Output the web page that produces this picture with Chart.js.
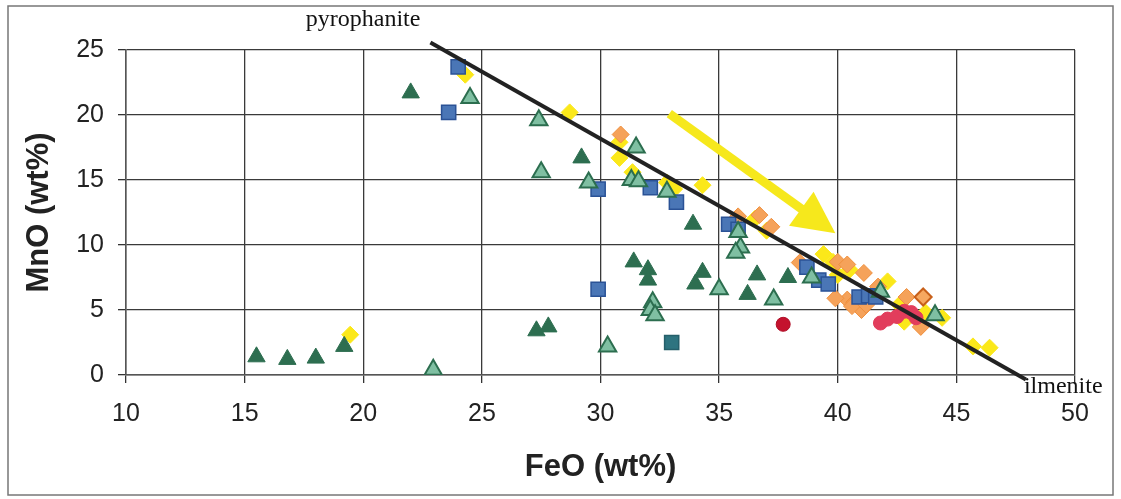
<!DOCTYPE html>
<html>
<head>
<meta charset="utf-8">
<script src="https://cdn.jsdelivr.net/npm/chart.js@4/dist/chart.umd.min.js"></script>
<style>
  html, body { margin: 0; padding: 0; background: #fff; }
  #wrap { width: 1121px; height: 499px; }
</style>
</head>
<body>
<div id="wrap"><canvas id="chart" width="1121" height="499"></canvas></div>
<script>
// axis ranges
const feoRange = [10, 50];
const mnoRange = [0, 25];

// dark green triangles
const darkTriFeO = [15.5, 16.8, 18.0, 19.2, 22.0, 29.2, 33.9, 31.4, 32.0, 32.0, 34.3, 34.0, 36.6, 36.2, 37.9, 27.3, 27.8];
const darkTriMnO = [1.4, 1.2, 1.3, 2.2, 21.7, 16.7, 11.6, 8.7, 8.1, 7.3, 7.9, 7.0, 7.7, 6.2, 7.5, 3.4, 3.7];

// light green triangles
const lightTriFeO = [24.5, 27.4, 27.5, 29.5, 31.5, 31.3, 31.6, 32.8, 35.8, 35.9, 35.7, 35.0, 37.3, 38.9, 41.8, 44.1, 32.2, 32.1, 32.3, 30.3, 22.95];
const lightTriMnO = [21.3, 19.6, 15.6, 14.8, 17.5, 15.0, 14.9, 14.1, 11.0, 9.8, 9.4, 6.6, 5.8, 7.5, 6.4, 4.6, 5.6, 5.0, 4.6, 2.2, 0.4];

// blue squares
const blueSqFeO = [24.0, 23.6, 29.9, 32.1, 33.2, 35.4, 35.8, 29.9, 38.7, 39.2, 39.6, 40.9, 41.3, 41.6];
const blueSqMnO = [23.7, 20.2, 14.3, 14.4, 13.3, 11.6, 11.2, 6.6, 8.3, 7.3, 7.0, 6.0, 6.1, 6.0];

// teal square
const tealSqFeO = [33.0];
const tealSqMnO = [2.5];

// yellow diamonds
const yellowFeO = [24.3, 28.7, 19.45, 30.8, 30.8, 31.35, 32.8, 33.1, 34.3, 36.5, 37.0, 39.4, 39.8, 40.0, 40.5, 42.1, 42.6, 42.8, 43.7, 44.4, 45.7, 46.4];
const yellowMnO = [23.1, 20.2, 3.1, 17.9, 16.7, 15.6, 14.8, 14.3, 14.6, 12.0, 11.1, 9.3, 8.7, 7.7, 8.1, 7.2, 5.4, 4.1, 4.8, 4.4, 2.2, 2.1];

// orange diamonds
const orangeFeO = [30.85, 35.8, 36.7, 37.2, 38.4, 40.0, 40.4, 41.1, 41.7, 42.9, 43.5, 40.4, 40.7, 41.0, 40.6, 41.2, 39.9];
const orangeMnO = [18.5, 12.2, 12.3, 11.4, 8.65, 8.7, 8.5, 7.85, 6.8, 6.0, 3.7, 5.8, 5.6, 5.0, 5.3, 5.4, 5.9];

// orange diamond with dark rim
const rimFeO = [43.6];
const rimMnO = [6.0];

// red circles
const redFeO = [37.7];
const redMnO = [3.9];
const pinkFeO = [41.8, 42.1, 42.5, 42.8, 43.1, 43.3];
const pinkMnO = [4.0, 4.3, 4.5, 4.9, 4.8, 4.4];

// pyrophanite - ilmenite line
const joinFeO = [22.83, 47.93];
const joinMnO = [25.58, -0.35];

// yellow arrow
const arrowFeO = [32.9, 39.9];
const arrowMnO = [20.1, 10.9];

function pts(xs, ys) {
     return xs.map((x, i) => ({ x: x, y: ys[i] }));
}

// outer frame and white background
const framePlugin = {
     id: 'frame',
     beforeDraw(chart) {
          const ctx = chart.ctx;
          ctx.save();
          ctx.fillStyle = '#fff';
          ctx.fillRect(0, 0, chart.width, chart.height);
          ctx.strokeStyle = '#777';
          ctx.lineWidth = 1.5;
          ctx.strokeRect(8, 6, chart.width - 16, chart.height - 10);
          ctx.restore();
     }
};

// arrow + end member labels
const notesPlugin = {
     id: 'notes',
     afterDatasetsDraw(chart) {
          const ctx = chart.ctx;
          const xs = chart.scales.x, ys = chart.scales.y;
          const x0 = xs.getPixelForValue(arrowFeO[0]), y0 = ys.getPixelForValue(arrowMnO[0]);
          const x1 = xs.getPixelForValue(arrowFeO[1]), y1 = ys.getPixelForValue(arrowMnO[1]);
          const ang = Math.atan2(y1 - y0, x1 - x0);
          const headLen = 42, headHalf = 21;
          const bx = x1 - Math.cos(ang) * headLen, by = y1 - Math.sin(ang) * headLen;
          ctx.save();
          ctx.strokeStyle = '#f6e81c';
          ctx.fillStyle = '#f6e81c';
          ctx.lineWidth = 9;
          ctx.beginPath();
          ctx.moveTo(x0, y0);
          ctx.lineTo(bx + Math.cos(ang) * 4, by + Math.sin(ang) * 4);
          ctx.stroke();
          ctx.beginPath();
          ctx.moveTo(x1, y1);
          ctx.lineTo(bx - Math.sin(ang) * headHalf, by + Math.cos(ang) * headHalf);
          ctx.lineTo(bx + Math.sin(ang) * headHalf, by - Math.cos(ang) * headHalf);
          ctx.closePath();
          ctx.fill();

          // labels at line ends
          const px = xs.getPixelForValue(joinFeO[0]), py = ys.getPixelForValue(joinMnO[0]);
          const ex = xs.getPixelForValue(joinFeO[1]), ey = ys.getPixelForValue(joinMnO[1]);
          ctx.fillStyle = '#111';
          ctx.font = '24px "Liberation Serif", "DejaVu Serif", serif';
          ctx.textAlign = 'right';
          ctx.textBaseline = 'alphabetic';
          ctx.fillText('pyrophanite', px - 10, py - 16);
          ctx.textAlign = 'left';
          ctx.textBaseline = 'middle';
          ctx.fillText('ilmenite', ex - 2, ey + 7);
          ctx.restore();
     }
};

const ctx = document.getElementById('chart').getContext('2d');

const chart = new Chart(ctx, {
     type: 'scatter',
     data: {
          datasets: [
               {
                    label: 'join',
                    data: pts(joinFeO, joinMnO),
                    showLine: true,
                    pointRadius: 0,
                    borderColor: '#222',
                    borderWidth: 4,
                    clip: false,
                    order: 0
               },
               {
                    label: 'red',
                    data: pts(redFeO, redMnO),
                    pointStyle: 'circle',
                    pointRadius: 7,
                    backgroundColor: '#c4122e',
                    borderColor: '#b00f28',
                    borderWidth: 1,
                    order: 1
               },
               {
                    label: 'pink',
                    data: pts(pinkFeO, pinkMnO),
                    pointStyle: 'circle',
                    pointRadius: 7,
                    backgroundColor: '#e23d5c',
                    borderColor: '#e23d5c',
                    borderWidth: 1,
                    order: 1
               },
               {
                    label: 'light triangles',
                    data: pts(lightTriFeO, lightTriMnO),
                    pointStyle: 'triangle',
                    pointRadius: 10,
                    backgroundColor: '#7fbfa2',
                    borderColor: '#2c6e4f',
                    borderWidth: 2,
                    order: 2
               },
               {
                    label: 'blue squares',
                    data: pts(blueSqFeO, blueSqMnO),
                    pointStyle: 'rect',
                    pointRadius: 10,
                    backgroundColor: '#4a76b6',
                    borderColor: '#2a5296',
                    borderWidth: 1.5,
                    order: 3
               },
               {
                    label: 'teal square',
                    data: pts(tealSqFeO, tealSqMnO),
                    pointStyle: 'rect',
                    pointRadius: 10,
                    backgroundColor: '#2e7480',
                    borderColor: '#255f6a',
                    borderWidth: 1.5,
                    order: 3
               },
               {
                    label: 'dark triangles',
                    data: pts(darkTriFeO, darkTriMnO),
                    pointStyle: 'triangle',
                    pointRadius: 10,
                    backgroundColor: '#2d6e50',
                    borderColor: '#2d6e50',
                    borderWidth: 1,
                    order: 4
               },
               {
                    label: 'orange rim',
                    data: pts(rimFeO, rimMnO),
                    pointStyle: 'rectRot',
                    pointRadius: 8.5,
                    backgroundColor: '#f6a860',
                    borderColor: '#c8601a',
                    borderWidth: 2,
                    order: 5
               },
               {
                    label: 'orange',
                    data: pts(orangeFeO, orangeMnO),
                    pointStyle: 'rectRot',
                    pointRadius: 8.5,
                    backgroundColor: '#f5a25a',
                    borderColor: '#f0903e',
                    borderWidth: 1,
                    order: 5
               },
               {
                    label: 'yellow',
                    data: pts(yellowFeO, yellowMnO),
                    pointStyle: 'rectRot',
                    pointRadius: 8.5,
                    backgroundColor: '#fbe81a',
                    borderColor: '#fbe81a',
                    borderWidth: 1,
                    order: 6
               }
          ]
     },
     options: {
          responsive: false,
          animation: false,
          layout: {
               padding: { left: 0, top: 50, right: 46, bottom: 0 }
          },
          plugins: {
               legend: { display: false },
               tooltip: { enabled: false }
          },
          scales: {
               x: {
                    type: 'linear',
                    min: feoRange[0],
                    max: feoRange[1],
                    afterFit: scale => { scale.height = 124; },
                    ticks: {
                         stepSize: 5,
                         color: '#222',
                         padding: 16,
                         font: { family: '"Liberation Sans", Arial, sans-serif', size: 25 }
                    },
                    grid: {
                         color: '#3a3a3a',
                         lineWidth: 1.3,
                         tickLength: 8,
                         tickColor: '#333'
                    },
                    border: { color: '#555', width: 1.5 },
                    title: {
                         display: true,
                         text: 'FeO (wt%)',
                         color: '#222',
                         padding: { top: 0, bottom: 13 },
                         font: { family: '"Liberation Sans", Arial, sans-serif', size: 31, weight: 'bold' }
                    }
               },
               y: {
                    min: mnoRange[0],
                    max: mnoRange[1],
                    afterFit: scale => { scale.width = 126; },
                    ticks: {
                         stepSize: 5,
                         color: '#222',
                         padding: 14,
                         font: { family: '"Liberation Sans", Arial, sans-serif', size: 25 }
                    },
                    grid: {
                         color: '#3a3a3a',
                         lineWidth: 1.3,
                         tickLength: 8,
                         tickColor: '#333'
                    },
                    border: { color: '#555', width: 1.5 },
                    title: {
                         display: true,
                         text: 'MnO (wt%)',
                         color: '#222',
                         padding: { top: 21, bottom: 0 },
                         font: { family: '"Liberation Sans", Arial, sans-serif', size: 31, weight: 'bold' }
                    }
               }
          }
     },
     plugins: [framePlugin, notesPlugin]
});
</script>
</body>
</html>
